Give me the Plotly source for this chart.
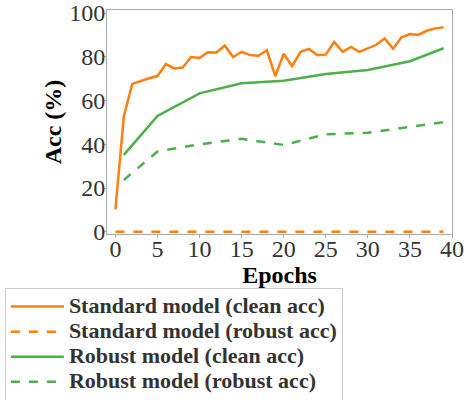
import plotly.graph_objects as go

epochs_std = list(range(40))
std_clean = [10.3, 52.7, 67.6, 69.0, 70.2, 71.2, 76.7, 74.7, 75.1, 79.9,
             79.5, 82.1, 82.0, 85.1, 79.9, 82.3, 80.8, 80.5, 83.0, 71.2,
             81.4, 75.7, 82.3, 83.6, 80.7, 81.0, 86.8, 82.3, 84.5, 82.3,
             83.9, 85.5, 88.4, 83.7, 88.9, 90.4, 90.0, 91.9, 93.0, 93.5]
std_robust = [0.0] * 40

epochs_rob = [1, 5, 10, 15, 20, 25, 30, 35, 39]
rob_clean = [35.2, 53.0, 63.3, 67.9, 69.1, 72.1, 74.0, 78.0, 83.9]
rob_robust = [23.7, 36.7, 40.0, 42.5, 39.7, 44.6, 45.3, 47.8, 50.1]

names = ["Standard model (clean acc)", "Standard model (robust acc)",
         "Robust model (clean acc)", "Robust model (robust acc)"]
orange = "#ff7f0e"
green = "#4daf4a"


def lbl(s):
    return '<span style="font-size:22px">' + s + "</span>"


fig = go.Figure()
fig.add_trace(go.Scatter(x=epochs_std, y=std_clean, mode="lines", name=lbl(names[0]),
                         line=dict(color=orange, width=2.5)))
fig.add_trace(go.Scatter(x=epochs_std, y=std_robust, mode="lines", name=lbl(names[1]),
                         line=dict(color=orange, width=2.5, dash="dash")))
fig.add_trace(go.Scatter(x=epochs_rob, y=rob_clean, mode="lines", name=lbl(names[2]),
                         line=dict(color=green, width=2.5)))
fig.add_trace(go.Scatter(x=epochs_rob, y=rob_robust, mode="lines", name=lbl(names[3]),
                         line=dict(color=green, width=2.5, dash="dash")))

serif = '"Liberation Serif", "Times New Roman", Times, serif'
fig.update_layout(
    width=466, height=400,
    margin=dict(l=107, r=14, t=10, b=166, autoexpand=False),
    paper_bgcolor="white", plot_bgcolor="white",
    font=dict(family=serif, size=24, color="#333"),
    xaxis=dict(range=[-1, 40], tickvals=[0, 5, 10, 15, 20, 25, 30, 35, 40],
               showgrid=False, zeroline=False, showline=True, linecolor="#aaa",
               mirror=True, ticks="outside", ticklen=3, tickcolor="#aaa",
               ticklabelstandoff=-10,
               tickfont=dict(family=serif, size=24, color="#333"),
               title=dict(text="<b>Epochs</b>", font=dict(family=serif, size=24, color="black"), standoff=0)),
    yaxis=dict(range=[-1, 101.4], tickvals=[0, 20, 40, 60, 80, 100],
               showgrid=False, zeroline=False, showline=True, linecolor="#aaa",
               mirror=True, ticks="outside", ticklen=3, tickcolor="#aaa",
               ticklabelstandoff=-7,
               tickfont=dict(family=serif, size=24, color="#333"),
               title=dict(text="<b>Acc (%)</b>", font=dict(family=serif, size=24, color="black"), standoff=0)),
    legend=dict(x=-0.296, xanchor="left", y=-0.241, yanchor="top",
                bordercolor="#ccc", borderwidth=1, bgcolor="white",
                font=dict(family=serif, size=17, color="#333", weight="bold"),
                itemwidth=53, tracegroupgap=0),
    showlegend=True,
)
fig.write_html("out.html", config={"displayModeBar": False},
               post_script="document.body.style.margin='0';")
